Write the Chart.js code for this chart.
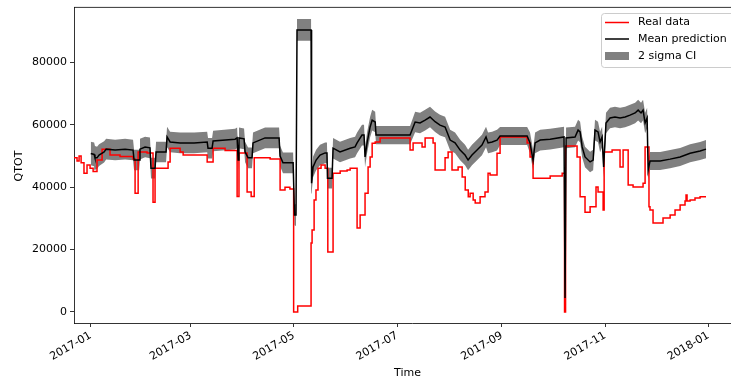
<!DOCTYPE html>
<html><head><meta charset="utf-8">
<script src="https://cdn.jsdelivr.net/npm/chart.js@4.4.1/dist/chart.umd.min.js"></script>
<style>
html,body{margin:0;padding:0;overflow:hidden;background:#fff;width:731px;height:383px}
#wrap{position:relative;width:760px;height:383px}
</style>
</head><body>
<div id="wrap"><canvas id="c" width="760" height="383"></canvas></div>
<script>
// Days counted from 2017-01-01
const tickDays = [0, 59, 120, 181, 243, 304, 365];
const tickLabels = ["2017-01", "2017-03", "2017-05", "2017-07", "2017-09", "2017-11", "2018-01"];
const yTicks = [0, 20000, 40000, 60000, 80000];

// Real data (value holds from the given day onward)
const realDays = [
  -9.9, -8.1, -6.9, -5.7, -4.0, -2.2, -0.4, 1.4, 3.7, 6.7,
  11.4, 17.3, 25.0, 26.2, 28.0, 33.3, 36.8, 38.0, 45.7, 46.9,
  52.8, 54.6, 68.8, 72.3, 79.4, 86.5, 87.6, 92.4, 94.8, 96.6,
  106.0, 111.9, 114.8, 117.7, 119.9, 122.3, 130.2, 130.8, 132.0, 133.1,
  134.3, 136.1, 138.5, 140.1, 143.2, 147.4, 151.5, 153.3, 157.4, 159.2,
  162.1, 163.9, 165.1, 166.3, 168.1, 171.0, 188.7, 190.5, 195.8, 197.6,
  202.3, 203.5, 209.4, 211.2, 213.5, 217.1, 219.5, 221.3, 223.1, 224.2,
  226.0, 227.2, 230.1, 233.0, 234.8, 236.0, 240.1, 241.9, 257.9, 259.6,
  261.4, 271.5, 278.6, 280.0, 280.6, 287.4, 289.2, 292.1, 295.1, 298.6,
  299.8, 302.8, 303.4, 308.1, 312.8, 314.6, 317.6, 320.5, 326.4, 327.6,
  329.9, 330.5, 332.3, 338.2, 342.4, 345.3, 348.3, 351.2, 351.8, 352.4,
  354.2, 357.1, 360.1, 363.6
];
const realValues = [
  49400, 48400, 50000, 47800, 44500, 47100, 46100, 45000, 48700, 52200,
  50300, 49800, 49000, 38100, 51300, 51000, 35200, 46100, 48100, 52500,
  51300, 50300, 48100, 52500, 51800, 37000, 51000, 38500, 37000, 49400,
  49000, 39100, 40000, 39400, 0, 1900, 22100, 26300, 35900, 39100,
  46100, 47100, 46100, 19200, 44500, 45200, 45500, 46100, 26900, 31100,
  38100, 46500, 49700, 54100, 54500, 55800, 51900, 54200, 52900, 55800,
  54200, 45500, 49400, 51300, 45500, 46500, 43300, 39100, 36900, 38100,
  35900, 34900, 36900, 38500, 44500, 43900, 50900, 56100, 54200, 49700,
  42900, 43600, 44500, 0, 53200, 49700, 36900, 32000, 33700, 40100,
  38500, 32700, 51300, 51900, 46500, 51900, 40700, 40100, 41300, 52900,
  33700, 32700, 28500, 30100, 31100, 32700, 34300, 35600, 37500, 35600,
  35900, 36500, 36900, 36900
];

// Mean prediction and half width of the 2 sigma band
const meanDays = [
  0, 2.0, 2.5, 3.7, 4.9, 7.9, 9.1, 14.4, 20.3, 25.0,
  25.6, 28.6, 29.1, 32.1, 35.0, 35.6, 38.0, 38.6, 44.5, 45.1,
  46.9, 52.8, 61.1, 68.8, 69.3, 71.7, 72.3, 85.3, 86.5, 87.1,
  87.6, 90.6, 91.2, 93.0, 95.3, 95.9, 103.0, 111.3, 111.9, 113.6,
  119.6, 120.4, 121.3, 121.9, 130.2, 130.5, 131.4, 133.2, 135.5, 138.5,
  139.6, 139.9, 142.6, 143.2, 147.3, 153.3, 156.2, 157.4, 160.3, 161.5,
  162.1, 163.3, 165.1, 166.3, 168.1, 168.6, 188.7, 191.7, 194.6, 197.6,
  200.5, 203.5, 206.4, 209.4, 212.4, 215.3, 218.3, 221.2, 223.0, 225.3,
  228.3, 231.2, 233.6, 234.8, 237.2, 240.1, 241.9, 257.9, 259.6, 261.4,
  262.6, 265.6, 271.5, 279.7, 280.3, 280.9, 286.2, 288.0, 289.2, 290.4,
  292.1, 295.1, 296.9, 298.0, 299.8, 301.0, 302.2, 303.1, 304.5, 306.9,
  309.8, 312.8, 315.8, 318.7, 321.7, 323.5, 325.2, 326.4, 327.6, 328.8,
  329.4, 330.5, 336.5, 342.4, 348.3, 354.2, 360.1, 363.6
];
const meanValues = [
  50800, 50500, 49400, 49400, 50300, 51300, 52200, 51900, 52200, 51900,
  48700, 48700, 52200, 52900, 52600, 46100, 46100, 51300, 51300, 56100,
  54500, 54200, 54200, 54500, 52500, 52500, 54800, 55400, 55800, 48700,
  55800, 55500, 51300, 49400, 49400, 54200, 55800, 55800, 50000, 47800,
  47800, 31100, 31100, 90400, 90400, 41300, 46500, 48700, 50300, 51000,
  51000, 42900, 42900, 52500, 51300, 52500, 52900, 54200, 56700, 56700,
  49700, 54200, 59300, 61500, 60900, 56700, 56700, 60900, 60600, 61500,
  62500, 61000, 59900, 59300, 55100, 54200, 51900, 50300, 48700, 50300,
  51900, 53500, 56100, 54200, 54500, 55100, 56400, 56400, 54200, 48700,
  54200, 55100, 55400, 56100, 4500, 55800, 56100, 58300, 57700, 52900,
  49700, 48100, 48700, 58300, 57700, 54500, 56100, 46500, 60600, 62200,
  62500, 62200, 62500, 63100, 63800, 64700, 63800, 64700, 60600, 62200,
  45500, 48400, 48400, 49000, 49700, 50900, 51600, 52200
];
const ciHalf = [
  3800, 3800, 3800, 3600, 3500, 3400, 3300, 3300, 3300, 3300,
  3300, 3300, 3300, 3300, 3300, 3300, 3300, 3300, 3300, 3300,
  3300, 3300, 3300, 3300, 3300, 3300, 3300, 3300, 3300, 3300,
  3300, 3300, 3300, 3300, 3300, 3300, 3300, 3300, 3300, 3300,
  3300, 3300, 3500, 3500, 3500, 3300, 3300, 3300, 3300, 3300,
  3300, 3300, 3300, 3300, 3300, 3300, 3300, 3300, 3300, 3300,
  3300, 3300, 3300, 3300, 3300, 2900, 2900, 3300, 3300, 3300,
  3300, 3300, 3300, 3300, 3300, 3300, 3300, 3300, 3300, 3300,
  3300, 3300, 3300, 3300, 3300, 3300, 2900, 2900, 3300, 3300,
  3300, 3300, 3300, 3300, 3300, 3300, 3300, 3300, 3300, 3300,
  3300, 3300, 3300, 3300, 3300, 3300, 3300, 3300, 3300, 3300,
  3300, 3300, 3300, 3300, 3300, 3300, 3300, 3300, 3300, 3300,
  3000, 2900, 2900, 2900, 2900, 2900, 2900, 2900
];

const X_MIN = -9.9, X_MAX = 389.6, Y_MIN = -3526, Y_MAX = 97756;
const FONT = "'DejaVu Sans', sans-serif";

const pts = (xs, ys) => xs.map((x, i) => ({x: x, y: ys[i]}));
const ciUpper = meanDays.map((d, i) => ({x: d, y: meanValues[i] + ciHalf[i]}));
const ciLower = meanDays.map((d, i) => ({x: d, y: meanValues[i] - ciHalf[i]}));

const framePlugin = {
  id: 'frame',
  afterDatasetsDraw(chart) {
    const {ctx, chartArea: a} = chart;
    ctx.save();
    ctx.strokeStyle = '#000';
    ctx.lineWidth = 0.8;
    ctx.beginPath();
    ctx.moveTo(a.left, a.top + 0.4);
    ctx.lineTo(a.right, a.top + 0.4);
    ctx.lineTo(a.right, a.bottom);
    ctx.stroke();
    ctx.restore();
  },
  afterDraw(chart) {
    const ctx = chart.ctx;
    ctx.save();
    ctx.font = "11px " + FONT;
    ctx.fillStyle = '#000';
    ctx.textAlign = 'center';
    ctx.textBaseline = 'middle';
    ctx.fillText('Time', 407.5, 373.5);
    ctx.translate(19.5, 166);
    ctx.rotate(-Math.PI / 2);
    ctx.fillText('QTOT', 0, 0);
    ctx.restore();

    // legend
    ctx.save();
    const bx = 601.5, by = 13.5, bw = 170, bh = 54, r = 3;
    ctx.beginPath();
    ctx.moveTo(bx + r, by);
    ctx.lineTo(bx + bw - r, by);
    ctx.arcTo(bx + bw, by, bx + bw, by + r, r);
    ctx.lineTo(bx + bw, by + bh - r);
    ctx.arcTo(bx + bw, by + bh, bx + bw - r, by + bh, r);
    ctx.lineTo(bx + r, by + bh);
    ctx.arcTo(bx, by + bh, bx, by + bh - r, r);
    ctx.lineTo(bx, by + r);
    ctx.arcTo(bx, by, bx + r, by, r);
    ctx.closePath();
    ctx.fillStyle = 'rgba(255,255,255,0.8)';
    ctx.fill();
    ctx.strokeStyle = '#cccccc';
    ctx.lineWidth = 1;
    ctx.stroke();

    const items = [
      {label: 'Real data', kind: 'line', color: '#ff0000', y: 22.5},
      {label: 'Mean prediction', kind: 'line', color: '#000000', y: 39},
      {label: '2 sigma CI', kind: 'patch', color: '#808080', y: 56}
    ];
    ctx.font = "11px " + FONT;
    ctx.textAlign = 'left';
    ctx.textBaseline = 'middle';
    items.forEach(it => {
      if (it.kind === 'line') {
        ctx.strokeStyle = it.color;
        ctx.lineWidth = 1.5;
        ctx.beginPath();
        ctx.moveTo(605, it.y);
        ctx.lineTo(629, it.y);
        ctx.stroke();
      } else {
        ctx.fillStyle = it.color;
        ctx.fillRect(605, it.y - 4, 24, 8);
      }
      ctx.fillStyle = '#000';
      ctx.fillText(it.label, 638, it.y);
    });
    ctx.restore();
  }
};

new Chart(document.getElementById('c').getContext('2d'), {
  type: 'line',
  data: {
    datasets: [
      {label: 'Mean prediction', data: pts(meanDays, meanValues), borderColor: '#000000',
       borderWidth: 1.5, pointRadius: 0, fill: false, tension: 0, order: 0},
      {label: 'Real data', data: pts(realDays, realValues), borderColor: '#ff0000',
       borderWidth: 1.5, pointRadius: 0, fill: false, stepped: 'before', order: 1},
      {label: '2 sigma CI', data: ciUpper, borderWidth: 0, borderColor: 'rgba(0,0,0,0)',
       backgroundColor: '#808080', pointRadius: 0, fill: '+1', tension: 0, order: 2},
      {label: 'ci lower', data: ciLower, borderWidth: 0, borderColor: 'rgba(0,0,0,0)',
       pointRadius: 0, fill: false, tension: 0, order: 3}
    ]
  },
  options: {
    responsive: false,
    animation: false,
    events: [],
    layout: {padding: {top: 7, right: 10, left: 0, bottom: 0}},
    plugins: {legend: {display: false}, tooltip: {enabled: false}},
    scales: {
      x: {
        type: 'linear', min: X_MIN, max: X_MAX,
        afterBuildTicks: s => { s.ticks = tickDays.map(v => ({value: v})); },
        afterFit: s => { s.height = 60; s.paddingLeft = 0; s.paddingRight = 0; },
        ticks: {autoSkip: false, minRotation: 30, maxRotation: 30, color: '#000',
                font: {family: FONT, size: 11}, padding: 2,
                callback: (v, i) => tickLabels[i]},
        grid: {drawOnChartArea: false, drawTicks: true, tickLength: 4, color: '#000', lineWidth: 0.8},
        border: {display: true, color: '#000', width: 0.8}
      },
      y: {
        type: 'linear', min: Y_MIN, max: Y_MAX,
        afterBuildTicks: s => { s.ticks = yTicks.map(v => ({value: v})); },
        afterFit: s => { s.width = 74; s.paddingTop = 0; s.paddingBottom = 0; },
        ticks: {color: '#000', font: {family: FONT, size: 11}, padding: 3,
                callback: v => String(v)},
        grid: {drawOnChartArea: false, drawTicks: true, tickLength: 4, color: '#000', lineWidth: 0.8},
        border: {display: true, color: '#000', width: 0.8}
      }
    }
  },
  plugins: [framePlugin]
});
</script>
</body></html>
